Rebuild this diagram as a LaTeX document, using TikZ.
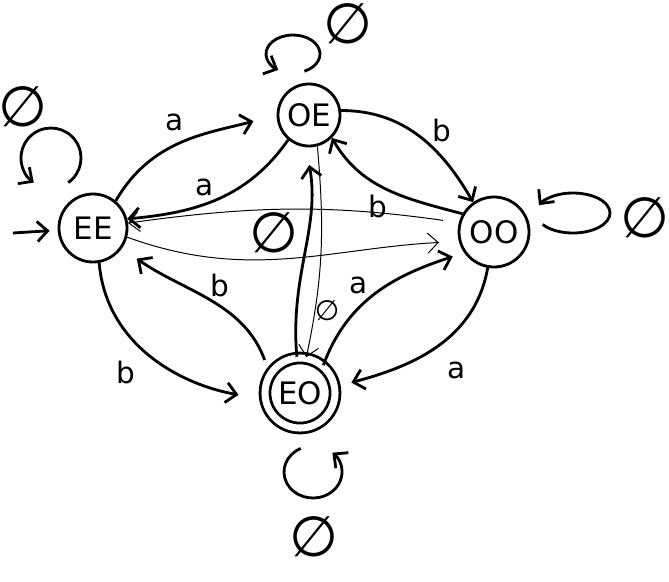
\documentclass[tikz,border=0pt]{standalone}
\usepackage{fontspec}
\setmainfont{DejaVu Sans}
\usetikzlibrary{arrows.meta}
\begin{document}
\begin{tikzpicture}[x=0.025cm,y=0.025cm,line width=2pt,
    >={Straight Barb[length=2.6mm,width=5mm]},
    stnode/.style={circle,draw,inner sep=0pt,font=\fontsize{22}{24}\selectfont},
    lbl/.style={font=\fontsize{21}{24}\selectfont},
    nul/.style={font=\fontsize{40}{44}\selectfont},
    smallnul/.style={font=\fontsize{20}{22}\selectfont},
    thinln/.style={line width=0.7pt}]
    \useasboundingbox (0,0) rectangle (669,-581);
    \node[stnode,minimum size=1.7cm] (EE) at (93,-228) {EE};
    \node[stnode,minimum size=1.55cm] (OE) at (309,-115) {OE};
    \node[stnode,minimum size=1.75cm] (OO) at (494,-232) {OO};
    \node[stnode,minimum size=1.75cm,double,double distance=5pt] (EO) at (300,-393) {EO};
    \coordinate (start) at (13,-233);
    \draw[->,shorten >=0.2cm] (start) -- (EE);
    \draw[->,shorten >=0.6cm] (EE.50) to[out=60,in=195] (OE.west);
    \node[lbl] (a1) at (175,-122) {a};
    \draw[->] (OE.230) to[out=235,in=5] (EE.15);
    \node[lbl] (a2) at (205,-187) {a};
    \draw[->] (OE.8) to[out=0,in=120] (OO.125);
    \node[lbl] (b1) at (442,-130) {b};
    \draw[->] (OO.150) to[out=165,in=-60] (OE.-45);
    \node[lbl] (b2) at (378,-206) {b};
    \draw[thinln,->,shorten >=0.5cm] (EE.-15) to[out=-20,in=183] (OO.195);
    \draw[thinln,->,shorten <=0.4cm] (OO.165) to[out=172,in=8] (EE.8);
    \node[nul] (n1) at (274,-233) {∅};
    \draw[->,shorten >=0.45cm] (EO.95) to[out=95,in=-80] (OE.-95);
    \draw[thinln,->] (OE.-75) to[out=-85,in=78] (EO.80);
    \node[smallnul] (n2) at (327,-311) {∅};
    \draw[->,shorten >=0.3cm] (EO.50) to[out=70,in=198] (OO.215);
    \node[lbl] (a3) at (359,-285) {a};
    \draw[->,shorten >=0.4cm] (OO.-100) to[out=-100,in=15] (EO.10);
    \node[lbl] (a4) at (457,-370) {a};
    \draw[->,shorten <=0.35cm,shorten >=0.45cm] (EO.147) to[out=110,in=-35] (EE.-35);
    \node[lbl] (b3) at (220,-285) {b};
    \draw[->,shorten >=0.65cm] (EE.-80) to[out=-85,in=170] (EO.190);
    \node[lbl] (b4) at (126,-372) {b};
    \coordinate (EEloop) at (51,-158);
    \draw[->] (EEloop) ++(-55:30) arc[start angle=-55,end angle=235,radius=30];
    \node[nul] (n3) at (23,-107) {∅};
    \coordinate (OEloop) at (293,-54);
    \draw[->] (OEloop) ++(-65:27 and 19) arc[start angle=-65,end angle=237,x radius=27,y radius=19];
    \node[nul] (n4) at (348,-24) {∅};
    \coordinate (OOloop) at (573,-213);
    \draw[->] (OOloop) ++(215:37 and 20) arc[start angle=215,end angle=517,x radius=37,y radius=20];
    \node[nul] (n5) at (645,-218) {∅};
    \coordinate (EOloop) at (313,-472);
    \draw[->] (EOloop) ++(115:29 and 26) arc[start angle=115,end angle=408,x radius=29,y radius=26];
    \node[nul] (n6) at (314,-537) {∅};
\end{tikzpicture}
\end{document}
